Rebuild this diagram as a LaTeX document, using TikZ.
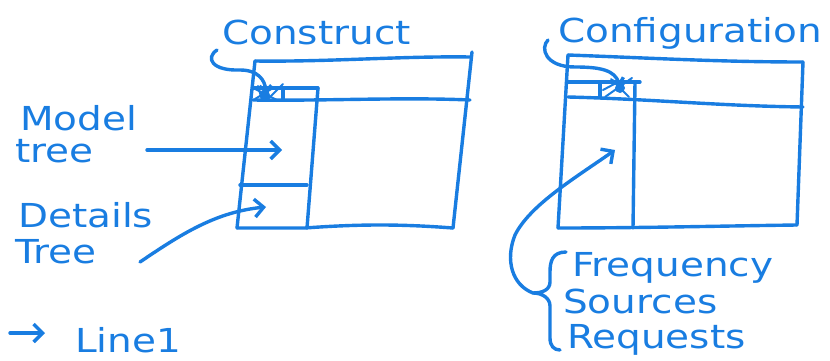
\documentclass[tikz,border=0pt]{standalone}
\usepackage{fontspec}
\newfontfamily\hand[FakeStretch=1.18]{DejaVu Sans}
\usetikzlibrary{arrows.meta}
\definecolor{ink}{RGB}{25,125,225}
\begin{document}
\begin{tikzpicture}[x=1pt,y=-1pt,
  pen/.style={draw=ink, line width=3.4pt, line cap=round, line join=round},
  lbl/.style={font=\hand\fontsize{33}{36}\selectfont, text=ink, inner sep=0pt, anchor=base west},
  chev/.style={pen, -{Straight Barb[length=9pt,width=18pt]}},
  hatch/.style={pen, line width=2pt},
]
\useasboundingbox (0,0) rectangle (830,361);

% ---------- labels ----------
\node[lbl] (construct) at (222,45) {Construct};
\node[lbl] (config) at (558,43) {Configuration};
\node[lbl] (model) at (20,130) {Model};
\node[lbl] (tree) at (15,162) {tree};
\node[lbl] (details) at (18,227) {Details};
\node[lbl] (tree2) at (15,263) {Tree};
\node[lbl] (freq) at (572,276) {Frequency};
\node[lbl] (sources) at (563,313) {Sources};
\node[lbl] (requests) at (567,348) {Requests};
\node[lbl] (line1) at (75,352) {Line1};

% ---------- left window ----------
\draw[pen] (255,61) .. controls (330,62) and (400,56) .. (470,57);
\draw[pen] (472,52) -- (453,228);
\draw[pen] (255,61) -- (237,228);
\draw[pen] (253,88) -- (318,88);
\draw[pen] (253,100) .. controls (330,101) and (400,97) .. (470,100);
\draw[pen] (283,88) -- (283,100);
\draw[pen] (318,88) -- (307,228);
\draw[pen] (240,185) -- (307,185);
\draw[pen] (237,228) -- (305,228) .. controls (360,224) and (400,224) .. (453,228);
% hatched mark
\fill[ink] (265,95) circle (5pt);
\draw[hatch] (255,89) -- (277,100);
\draw[hatch] (255,99) -- (273,88);
\draw[hatch] (268,99) -- (283,84);
\draw[hatch] (258,86) -- (262,100);

% ---------- right window ----------
\draw[pen] (568,55) .. controls (650,58) and (720,62) .. (803,62);
\draw[pen] (803,62) -- (797,225);
\draw[pen] (568,55) -- (558,228);
\draw[pen] (568,82) -- (640,82);
\draw[pen] (568,97) .. controls (650,99) and (720,106) .. (803,107);
\draw[pen] (600,82) -- (600,97);
\draw[pen] (635,82) -- (633,228);
\draw[pen] (558,228) .. controls (640,228) and (720,226) .. (797,225);
\fill[ink] (620,88) circle (5pt);
\draw[hatch] (605,97) -- (632,78);
\draw[hatch] (611,79) -- (629,97);
\draw[hatch] (603,90) -- (618,82);

% ---------- connectors ----------
\coordinate (cstart) at (217,50);
\coordinate (cend) at (266,94);
\draw[pen, -{Straight Barb[length=6pt,width=12pt]}] (cstart) .. controls (205,58) and (212,71) .. (240,70) .. controls (258,70) and (265,80) .. (cend);

\coordinate (gstart) at (548,40);
\coordinate (gend) at (620,87);
\draw[pen, -{Straight Barb[length=6pt,width=12pt]}] (gstart) .. controls (540,48) and (545,67) .. (575,67) .. controls (600,67) and (615,70) .. (gend);

\coordinate (mts) at (147,150);
\coordinate (mte) at (282,150);
\draw[chev] (mts) -- (mte);

\coordinate (dts) at (140,262);
\coordinate (dte) at (266,207);
\draw[chev] (dts) .. controls (180,235) and (215,212) .. (dte);

\coordinate (la) at (10,333);
\coordinate (lb) at (45,333);
\draw[chev] (la) -- (lb);

% brace
\coordinate (btip) at (533,293);
\draw[pen] (566,252) .. controls (552,252) and (550,262) .. (550,272)
  -- (550,282) .. controls (550,290) and (542,293) .. (btip)
  .. controls (542,293) and (550,298) .. (550,306)
  -- (550,338) .. controls (550,346) and (554,350) .. (560,350);
\coordinate (fend) at (615,150);
\draw[chev] (btip) .. controls (512,285) and (505,260) .. (515,235)
  .. controls (530,205) and (575,178) .. (fend);
\end{tikzpicture}
\end{document}
